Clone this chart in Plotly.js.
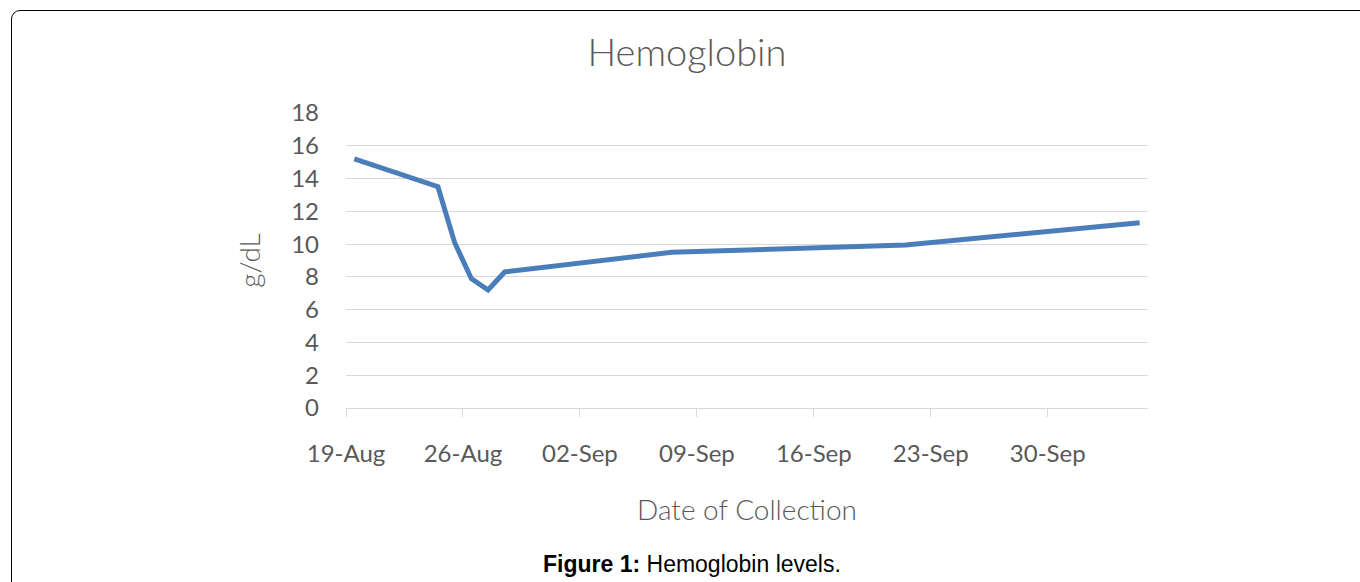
<!DOCTYPE html>
<html>
<head>
<meta charset="utf-8">
<script src="https://cdn.plot.ly/plotly-3.0.1.min.js"></script>
<style>
  html, body { margin: 0; padding: 0; background: #fff; overflow: hidden; }
  #wrap { position: relative; width: 1360px; height: 582px; }
  #chart { width: 1360px; height: 582px; }
  #frame { position: absolute; left: 11px; top: 10px; width: 1370px; height: 600px;
           border: 1px solid #000; border-radius: 9px; pointer-events: none; box-sizing: border-box; }
</style>
</head>
<body>
<div id="wrap">
  <div id="chart"></div>
  <div id="frame"></div>
</div>
<script>
// Data (dates centred at noon, as Excel plots daily points mid-day)
const dates = ['2015-08-19 12:00', '2015-08-24 12:00', '2015-08-25 12:00', '2015-08-26 12:00',
               '2015-08-27 12:00', '2015-08-28 12:00', '2015-09-07 12:00', '2015-09-21 12:00',
               '2015-10-05 12:00'];
const hemoglobin = [15.2, 13.5, 10.1, 7.9, 7.2, 8.3, 9.5, 9.95, 11.3];
const xTickVals = ['2015-08-19', '2015-08-26', '2015-09-02', '2015-09-09', '2015-09-16', '2015-09-23', '2015-09-30'];
const xTickText = ['19-Aug', '26-Aug', '02-Sep', '09-Sep', '16-Sep', '23-Sep', '30-Sep'];
const yTickVals = [0, 2, 4, 6, 8, 10, 12, 14, 16, 18];

const fontFam = 'Lato, "Open Sans", sans-serif';
const grey = '#595959';

const trace = {
  x: dates, y: hemoglobin, type: 'scatter', mode: 'lines',
  line: { color: '#4a7ebb', width: 5 }, hoverinfo: 'skip'
};

const layout = {
  width: 1360, height: 582,
  margin: { l: 346, r: 212, t: 113, b: 174 },
  paper_bgcolor: '#fff', plot_bgcolor: '#fff',
  showlegend: false,
  title: { text: 'Hemoglobin', x: 687 / 1360, xanchor: 'center', y: 1 - 53 / 582, yanchor: 'middle',
           font: { family: fontFam, size: 38, weight: 300, color: grey } },
  xaxis: {
    type: 'date', range: ['2015-08-19', '2015-10-06'],
    tickmode: 'array', tickvals: xTickVals, ticktext: xTickText,
    showgrid: false, showline: true, linecolor: '#d9d9d9', linewidth: 1,
    ticks: 'outside', ticklen: 8, tickcolor: '#d9d9d9', tickwidth: 1,
    ticklabelstandoff: 16,
    tickfont: { family: fontFam, size: 24, color: grey },
    title: { text: 'Date of Collection', standoff: 34, font: { family: fontFam, size: 28, weight: 300, color: grey } },
    zeroline: false, fixedrange: true
  },
  yaxis: {
    range: [0, 18], tickmode: 'array', tickvals: yTickVals,
    showgrid: true, gridcolor: '#d9d9d9', gridwidth: 1,
    showline: false, zeroline: false, ticks: '',
    ticklabelstandoff: 26,
    tickfont: { family: fontFam, size: 24, color: grey },
    title: { text: 'g/dL', standoff: 22, font: { family: fontFam, size: 28, weight: 300, color: grey } },
    fixedrange: true
  },
  annotations: [{
    xref: 'paper', yref: 'paper',
    x: (692 - 346) / (1360 - 346 - 212), y: -(564 - 408) / (408 - 113),
    xanchor: 'center', yanchor: 'middle', showarrow: false,
    text: '<b>Figure 1:</b> Hemoglobin levels.',
    font: { family: '"Liberation Sans", Arial, sans-serif', size: 23, color: '#000' }
  }]
};

Plotly.newPlot('chart', [trace], layout, { displayModeBar: false, staticPlot: true });
</script>
</body>
</html>
